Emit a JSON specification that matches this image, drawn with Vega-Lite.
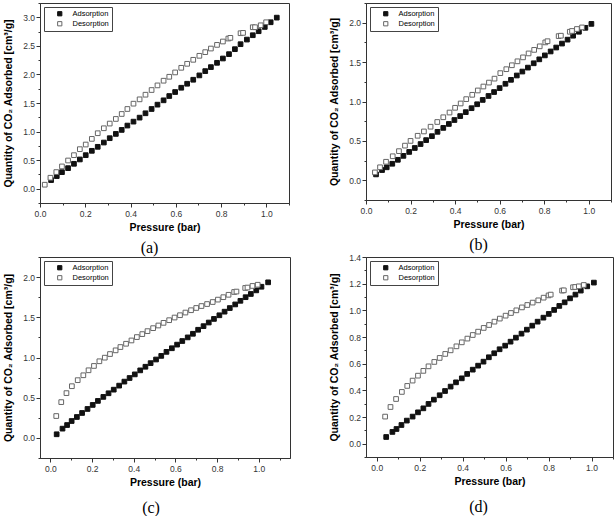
{
"$schema": "https://vega.github.io/schema/vega-lite/v6.json",
"padding": {"left": 3, "top": 2, "right": 2, "bottom": 0},
"background": "white",
"columns": 2,
"spacing": {"column": 38, "row": -6},
"resolve": {"scale": {"fill": "independent", "stroke": "independent"}},
"datasets": {
"a": [
{"p":0.049,"q":0.151,"s":"Adsorption"},{"p":0.074,"q":0.221,"s":"Adsorption"},{"p":0.097,"q":0.29,"s":"Adsorption"},{"p":0.124,"q":0.36,"s":"Adsorption"},{"p":0.150,"q":0.436,"s":"Adsorption"},{"p":0.176,"q":0.512,"s":"Adsorption"},{"p":0.202,"q":0.587,"s":"Adsorption"},{"p":0.229,"q":0.663,"s":"Adsorption"},{"p":0.255,"q":0.733,"s":"Adsorption"},{"p":0.282,"q":0.808,"s":"Adsorption"},{"p":0.308,"q":0.884,"s":"Adsorption"},{"p":0.335,"q":0.959,"s":"Adsorption"},{"p":0.361,"q":1.029,"s":"Adsorption"},{"p":0.386,"q":1.105,"s":"Adsorption"},{"p":0.413,"q":1.174,"s":"Adsorption"},{"p":0.440,"q":1.244,"s":"Adsorption"},{"p":0.466,"q":1.32,"s":"Adsorption"},{"p":0.493,"q":1.395,"s":"Adsorption"},{"p":0.519,"q":1.471,"s":"Adsorption"},{"p":0.546,"q":1.547,"s":"Adsorption"},{"p":0.571,"q":1.622,"s":"Adsorption"},{"p":0.597,"q":1.692,"s":"Adsorption"},{"p":0.624,"q":1.767,"s":"Adsorption"},{"p":0.650,"q":1.837,"s":"Adsorption"},{"p":0.677,"q":1.907,"s":"Adsorption"},{"p":0.704,"q":1.983,"s":"Adsorption"},{"p":0.730,"q":2.058,"s":"Adsorption"},{"p":0.755,"q":2.128,"s":"Adsorption"},{"p":0.782,"q":2.203,"s":"Adsorption"},{"p":0.808,"q":2.279,"s":"Adsorption"},{"p":0.835,"q":2.355,"s":"Adsorption"},{"p":0.861,"q":2.442,"s":"Adsorption"},{"p":0.886,"q":2.529,"s":"Adsorption"},{"p":0.914,"q":2.61,"s":"Adsorption"},{"p":0.940,"q":2.686,"s":"Adsorption"},{"p":0.966,"q":2.756,"s":"Adsorption"},{"p":0.993,"q":2.831,"s":"Adsorption"},{"p":1.019,"q":2.913,"s":"Adsorption"},{"p":1.046,"q":2.994,"s":"Adsorption"},
{"p":0.021,"q":0.07,"s":"Desorption"},{"p":0.046,"q":0.192,"s":"Desorption"},{"p":0.072,"q":0.291,"s":"Desorption"},{"p":0.097,"q":0.39,"s":"Desorption"},{"p":0.124,"q":0.494,"s":"Desorption"},{"p":0.150,"q":0.587,"s":"Desorption"},{"p":0.176,"q":0.692,"s":"Desorption"},{"p":0.202,"q":0.773,"s":"Desorption"},{"p":0.229,"q":0.872,"s":"Desorption"},{"p":0.255,"q":0.971,"s":"Desorption"},{"p":0.282,"q":1.058,"s":"Desorption"},{"p":0.308,"q":1.14,"s":"Desorption"},{"p":0.335,"q":1.221,"s":"Desorption"},{"p":0.361,"q":1.308,"s":"Desorption"},{"p":0.386,"q":1.395,"s":"Desorption"},{"p":0.413,"q":1.488,"s":"Desorption"},{"p":0.440,"q":1.564,"s":"Desorption"},{"p":0.466,"q":1.645,"s":"Desorption"},{"p":0.493,"q":1.727,"s":"Desorption"},{"p":0.519,"q":1.808,"s":"Desorption"},{"p":0.546,"q":1.89,"s":"Desorption"},{"p":0.571,"q":1.959,"s":"Desorption"},{"p":0.597,"q":2.035,"s":"Desorption"},{"p":0.624,"q":2.116,"s":"Desorption"},{"p":0.650,"q":2.186,"s":"Desorption"},{"p":0.677,"q":2.256,"s":"Desorption"},{"p":0.704,"q":2.326,"s":"Desorption"},{"p":0.730,"q":2.39,"s":"Desorption"},{"p":0.755,"q":2.453,"s":"Desorption"},{"p":0.782,"q":2.517,"s":"Desorption"},{"p":0.808,"q":2.576,"s":"Desorption"},{"p":0.832,"q":2.628,"s":"Desorption"},{"p":0.841,"q":2.64,"s":"Desorption"},{"p":0.886,"q":2.721,"s":"Desorption"},{"p":0.897,"q":2.727,"s":"Desorption"},{"p":0.940,"q":2.826,"s":"Desorption"},{"p":0.950,"q":2.826,"s":"Desorption"},{"p":0.975,"q":2.86,"s":"Desorption"},{"p":0.999,"q":2.913,"s":"Desorption"}
],
"b": [
{"p":0.045,"q":0.075,"s":"Adsorption"},{"p":0.072,"q":0.13,"s":"Adsorption"},{"p":0.093,"q":0.165,"s":"Adsorption"},{"p":0.118,"q":0.21,"s":"Adsorption"},{"p":0.143,"q":0.26,"s":"Adsorption"},{"p":0.168,"q":0.31,"s":"Adsorption"},{"p":0.194,"q":0.36,"s":"Adsorption"},{"p":0.219,"q":0.41,"s":"Adsorption"},{"p":0.245,"q":0.46,"s":"Adsorption"},{"p":0.270,"q":0.51,"s":"Adsorption"},{"p":0.296,"q":0.56,"s":"Adsorption"},{"p":0.321,"q":0.615,"s":"Adsorption"},{"p":0.347,"q":0.665,"s":"Adsorption"},{"p":0.372,"q":0.715,"s":"Adsorption"},{"p":0.397,"q":0.765,"s":"Adsorption"},{"p":0.423,"q":0.815,"s":"Adsorption"},{"p":0.448,"q":0.865,"s":"Adsorption"},{"p":0.474,"q":0.915,"s":"Adsorption"},{"p":0.499,"q":0.965,"s":"Adsorption"},{"p":0.524,"q":1.02,"s":"Adsorption"},{"p":0.550,"q":1.07,"s":"Adsorption"},{"p":0.575,"q":1.12,"s":"Adsorption"},{"p":0.600,"q":1.17,"s":"Adsorption"},{"p":0.626,"q":1.225,"s":"Adsorption"},{"p":0.651,"q":1.275,"s":"Adsorption"},{"p":0.677,"q":1.33,"s":"Adsorption"},{"p":0.702,"q":1.38,"s":"Adsorption"},{"p":0.727,"q":1.43,"s":"Adsorption"},{"p":0.753,"q":1.485,"s":"Adsorption"},{"p":0.778,"q":1.535,"s":"Adsorption"},{"p":0.803,"q":1.585,"s":"Adsorption"},{"p":0.829,"q":1.635,"s":"Adsorption"},{"p":0.854,"q":1.685,"s":"Adsorption"},{"p":0.880,"q":1.735,"s":"Adsorption"},{"p":0.905,"q":1.785,"s":"Adsorption"},{"p":0.930,"q":1.835,"s":"Adsorption"},{"p":0.956,"q":1.885,"s":"Adsorption"},{"p":0.985,"q":1.935,"s":"Adsorption"},{"p":1.012,"q":1.985,"s":"Adsorption"},
{"p":0.040,"q":0.10,"s":"Desorption"},{"p":0.063,"q":0.165,"s":"Desorption"},{"p":0.090,"q":0.235,"s":"Desorption"},{"p":0.120,"q":0.305,"s":"Desorption"},{"p":0.148,"q":0.37,"s":"Desorption"},{"p":0.175,"q":0.44,"s":"Desorption"},{"p":0.200,"q":0.50,"s":"Desorption"},{"p":0.232,"q":0.565,"s":"Desorption"},{"p":0.260,"q":0.62,"s":"Desorption"},{"p":0.290,"q":0.68,"s":"Desorption"},{"p":0.320,"q":0.74,"s":"Desorption"},{"p":0.347,"q":0.80,"s":"Desorption"},{"p":0.375,"q":0.86,"s":"Desorption"},{"p":0.400,"q":0.92,"s":"Desorption"},{"p":0.425,"q":0.975,"s":"Desorption"},{"p":0.450,"q":1.03,"s":"Desorption"},{"p":0.477,"q":1.085,"s":"Desorption"},{"p":0.502,"q":1.14,"s":"Desorption"},{"p":0.527,"q":1.19,"s":"Desorption"},{"p":0.552,"q":1.24,"s":"Desorption"},{"p":0.577,"q":1.29,"s":"Desorption"},{"p":0.603,"q":1.36,"s":"Desorption"},{"p":0.630,"q":1.41,"s":"Desorption"},{"p":0.655,"q":1.46,"s":"Desorption"},{"p":0.680,"q":1.51,"s":"Desorption"},{"p":0.705,"q":1.56,"s":"Desorption"},{"p":0.730,"q":1.61,"s":"Desorption"},{"p":0.755,"q":1.655,"s":"Desorption"},{"p":0.780,"q":1.70,"s":"Desorption"},{"p":0.805,"q":1.75,"s":"Desorption"},{"p":0.815,"q":1.765,"s":"Desorption"},{"p":0.865,"q":1.83,"s":"Desorption"},{"p":0.875,"q":1.835,"s":"Desorption"},{"p":0.915,"q":1.885,"s":"Desorption"},{"p":0.925,"q":1.895,"s":"Desorption"},{"p":0.947,"q":1.92,"s":"Desorption"},{"p":0.970,"q":1.94,"s":"Desorption"}
],
"c": [
{"p":0.030,"q":0.045,"s":"Adsorption"},{"p":0.058,"q":0.115,"s":"Adsorption"},{"p":0.080,"q":0.16,"s":"Adsorption"},{"p":0.102,"q":0.21,"s":"Adsorption"},{"p":0.127,"q":0.26,"s":"Adsorption"},{"p":0.152,"q":0.31,"s":"Adsorption"},{"p":0.178,"q":0.36,"s":"Adsorption"},{"p":0.203,"q":0.41,"s":"Adsorption"},{"p":0.228,"q":0.46,"s":"Adsorption"},{"p":0.254,"q":0.51,"s":"Adsorption"},{"p":0.279,"q":0.555,"s":"Adsorption"},{"p":0.304,"q":0.60,"s":"Adsorption"},{"p":0.330,"q":0.65,"s":"Adsorption"},{"p":0.355,"q":0.70,"s":"Adsorption"},{"p":0.380,"q":0.745,"s":"Adsorption"},{"p":0.405,"q":0.79,"s":"Adsorption"},{"p":0.431,"q":0.84,"s":"Adsorption"},{"p":0.456,"q":0.885,"s":"Adsorption"},{"p":0.481,"q":0.93,"s":"Adsorption"},{"p":0.507,"q":0.975,"s":"Adsorption"},{"p":0.532,"q":1.02,"s":"Adsorption"},{"p":0.557,"q":1.07,"s":"Adsorption"},{"p":0.583,"q":1.115,"s":"Adsorption"},{"p":0.608,"q":1.16,"s":"Adsorption"},{"p":0.633,"q":1.205,"s":"Adsorption"},{"p":0.659,"q":1.25,"s":"Adsorption"},{"p":0.684,"q":1.295,"s":"Adsorption"},{"p":0.709,"q":1.345,"s":"Adsorption"},{"p":0.735,"q":1.39,"s":"Adsorption"},{"p":0.760,"q":1.435,"s":"Adsorption"},{"p":0.785,"q":1.48,"s":"Adsorption"},{"p":0.811,"q":1.525,"s":"Adsorption"},{"p":0.836,"q":1.57,"s":"Adsorption"},{"p":0.861,"q":1.615,"s":"Adsorption"},{"p":0.887,"q":1.66,"s":"Adsorption"},{"p":0.912,"q":1.705,"s":"Adsorption"},{"p":0.937,"q":1.75,"s":"Adsorption"},{"p":0.962,"q":1.79,"s":"Adsorption"},{"p":0.988,"q":1.835,"s":"Adsorption"},{"p":1.013,"q":1.88,"s":"Adsorption"},{"p":1.045,"q":1.935,"s":"Adsorption"},
{"p":0.028,"q":0.272,"s":"Desorption"},{"p":0.052,"q":0.445,"s":"Desorption"},{"p":0.077,"q":0.557,"s":"Desorption"},{"p":0.103,"q":0.643,"s":"Desorption"},{"p":0.131,"q":0.718,"s":"Desorption"},{"p":0.158,"q":0.779,"s":"Desorption"},{"p":0.183,"q":0.841,"s":"Desorption"},{"p":0.209,"q":0.895,"s":"Desorption"},{"p":0.235,"q":0.953,"s":"Desorption"},{"p":0.261,"q":0.998,"s":"Desorption"},{"p":0.286,"q":1.043,"s":"Desorption"},{"p":0.313,"q":1.089,"s":"Desorption"},{"p":0.336,"q":1.13,"s":"Desorption"},{"p":0.363,"q":1.171,"s":"Desorption"},{"p":0.389,"q":1.212,"s":"Desorption"},{"p":0.415,"q":1.254,"s":"Desorption"},{"p":0.441,"q":1.291,"s":"Desorption"},{"p":0.466,"q":1.328,"s":"Desorption"},{"p":0.493,"q":1.365,"s":"Desorption"},{"p":0.518,"q":1.398,"s":"Desorption"},{"p":0.543,"q":1.431,"s":"Desorption"},{"p":0.570,"q":1.464,"s":"Desorption"},{"p":0.596,"q":1.497,"s":"Desorption"},{"p":0.622,"q":1.526,"s":"Desorption"},{"p":0.648,"q":1.559,"s":"Desorption"},{"p":0.675,"q":1.588,"s":"Desorption"},{"p":0.700,"q":1.616,"s":"Desorption"},{"p":0.725,"q":1.64,"s":"Desorption"},{"p":0.752,"q":1.665,"s":"Desorption"},{"p":0.779,"q":1.69,"s":"Desorption"},{"p":0.804,"q":1.72,"s":"Desorption"},{"p":0.830,"q":1.75,"s":"Desorption"},{"p":0.855,"q":1.78,"s":"Desorption"},{"p":0.882,"q":1.815,"s":"Desorption"},{"p":0.893,"q":1.82,"s":"Desorption"},{"p":0.935,"q":1.865,"s":"Desorption"},{"p":0.946,"q":1.87,"s":"Desorption"},{"p":0.970,"q":1.89,"s":"Desorption"},{"p":0.995,"q":1.905,"s":"Desorption"}
],
"d": [
{"p":0.044,"q":0.05,"s":"Adsorption"},{"p":0.073,"q":0.088,"s":"Adsorption"},{"p":0.092,"q":0.11,"s":"Adsorption"},{"p":0.115,"q":0.14,"s":"Adsorption"},{"p":0.140,"q":0.173,"s":"Adsorption"},{"p":0.167,"q":0.203,"s":"Adsorption"},{"p":0.192,"q":0.235,"s":"Adsorption"},{"p":0.217,"q":0.265,"s":"Adsorption"},{"p":0.241,"q":0.298,"s":"Adsorption"},{"p":0.266,"q":0.33,"s":"Adsorption"},{"p":0.293,"q":0.363,"s":"Adsorption"},{"p":0.318,"q":0.395,"s":"Adsorption"},{"p":0.344,"q":0.428,"s":"Adsorption"},{"p":0.369,"q":0.46,"s":"Adsorption"},{"p":0.396,"q":0.49,"s":"Adsorption"},{"p":0.421,"q":0.523,"s":"Adsorption"},{"p":0.447,"q":0.555,"s":"Adsorption"},{"p":0.472,"q":0.585,"s":"Adsorption"},{"p":0.497,"q":0.615,"s":"Adsorption"},{"p":0.522,"q":0.648,"s":"Adsorption"},{"p":0.547,"q":0.678,"s":"Adsorption"},{"p":0.572,"q":0.708,"s":"Adsorption"},{"p":0.598,"q":0.735,"s":"Adsorption"},{"p":0.623,"q":0.765,"s":"Adsorption"},{"p":0.648,"q":0.795,"s":"Adsorption"},{"p":0.674,"q":0.825,"s":"Adsorption"},{"p":0.699,"q":0.855,"s":"Adsorption"},{"p":0.724,"q":0.885,"s":"Adsorption"},{"p":0.749,"q":0.915,"s":"Adsorption"},{"p":0.776,"q":0.945,"s":"Adsorption"},{"p":0.801,"q":0.973,"s":"Adsorption"},{"p":0.826,"q":1.003,"s":"Adsorption"},{"p":0.850,"q":1.033,"s":"Adsorption"},{"p":0.875,"q":1.06,"s":"Adsorption"},{"p":0.900,"q":1.09,"s":"Adsorption"},{"p":0.925,"q":1.118,"s":"Adsorption"},{"p":0.950,"q":1.148,"s":"Adsorption"},{"p":0.980,"q":1.18,"s":"Adsorption"},{"p":1.011,"q":1.208,"s":"Adsorption"},
{"p":0.039,"q":0.203,"s":"Desorption"},{"p":0.064,"q":0.275,"s":"Desorption"},{"p":0.090,"q":0.335,"s":"Desorption"},{"p":0.117,"q":0.388,"s":"Desorption"},{"p":0.142,"q":0.433,"s":"Desorption"},{"p":0.167,"q":0.473,"s":"Desorption"},{"p":0.192,"q":0.51,"s":"Desorption"},{"p":0.217,"q":0.546,"s":"Desorption"},{"p":0.241,"q":0.58,"s":"Desorption"},{"p":0.268,"q":0.613,"s":"Desorption"},{"p":0.293,"q":0.643,"s":"Desorption"},{"p":0.319,"q":0.673,"s":"Desorption"},{"p":0.344,"q":0.70,"s":"Desorption"},{"p":0.371,"q":0.73,"s":"Desorption"},{"p":0.396,"q":0.76,"s":"Desorption"},{"p":0.422,"q":0.788,"s":"Desorption"},{"p":0.447,"q":0.815,"s":"Desorption"},{"p":0.472,"q":0.84,"s":"Desorption"},{"p":0.498,"q":0.868,"s":"Desorption"},{"p":0.523,"q":0.89,"s":"Desorption"},{"p":0.548,"q":0.915,"s":"Desorption"},{"p":0.573,"q":0.938,"s":"Desorption"},{"p":0.600,"q":0.96,"s":"Desorption"},{"p":0.625,"q":0.98,"s":"Desorption"},{"p":0.650,"q":1.0,"s":"Desorption"},{"p":0.676,"q":1.022,"s":"Desorption"},{"p":0.701,"q":1.04,"s":"Desorption"},{"p":0.726,"q":1.058,"s":"Desorption"},{"p":0.752,"q":1.075,"s":"Desorption"},{"p":0.777,"q":1.095,"s":"Desorption"},{"p":0.800,"q":1.112,"s":"Desorption"},{"p":0.810,"q":1.118,"s":"Desorption"},{"p":0.863,"q":1.148,"s":"Desorption"},{"p":0.871,"q":1.15,"s":"Desorption"},{"p":0.914,"q":1.173,"s":"Desorption"},{"p":0.924,"q":1.175,"s":"Desorption"},{"p":0.941,"q":1.18,"s":"Desorption"},{"p":0.964,"q":1.19,"s":"Desorption"}
]
},
"concat": [
{
"width": 249, "height": 200,
"data": {"name": "a"},
"title": {"text": "(a)", "offset": 7, "dx": -15},
"mark": {"type": "point", "shape": "square", "size": 22, "strokeWidth": 1, "opacity": 1},
"encoding": {
"x": {"field": "p", "type": "quantitative", "scale": {"domain": [0, 1.1], "nice": false, "zero": false},
 "axis": {"title": "Pressure (bar)", "values": [0,0.1,0.2,0.3,0.4,0.5,0.6,0.7,0.8,0.9,1.0,1.1],
  "labelExpr": "round(datum.value*10)%2==0 ? format(datum.value,'.1f') : ''",
  "labelFontSize": {"condition": {"test": "round(datum.value*10)%2==0", "value": 8.5}, "value": 0},
  "tickSize": {"condition": {"test": "round(datum.value*10)%2==0", "value": 4}, "value": 2}}},
"y": {"field": "q", "type": "quantitative", "scale": {"domain": [-0.25, 3.25], "nice": false, "zero": false},
 "axis": {"title": "Quantity of CO₂ Adsorbed [cm³/g]", "values": [-0.25,0,0.25,0.5,0.75,1,1.25,1.5,1.75,2,2.25,2.5,2.75,3,3.25],
  "labelExpr": "round(datum.value*4)%2==0 ? format(datum.value,'.1f') : ''",
  "labelFontSize": {"condition": {"test": "round(datum.value*4)%2==0", "value": 8.5}, "value": 0},
  "tickSize": {"condition": {"test": "round(datum.value*4)%2==0", "value": 4}, "value": 2}}},
"fill": {"field": "s", "type": "nominal", "scale": {"domain": ["Adsorption", "Desorption"], "range": ["#111111", "#ffffff"]}, "legend": {"title": null}},
"stroke": {"field": "s", "type": "nominal", "scale": {"domain": ["Adsorption", "Desorption"], "range": ["#111111", "#666666"]}, "legend": {"title": null}}
}
},
{
"width": 245, "height": 197,
"data": {"name": "b"},
"title": {"text": "(b)", "offset": 7, "dx": -10},
"mark": {"type": "point", "shape": "square", "size": 22, "strokeWidth": 1, "opacity": 1},
"encoding": {
"x": {"field": "p", "type": "quantitative", "scale": {"domain": [0, 1.1], "nice": false, "zero": false},
 "axis": {"title": "Pressure (bar)", "values": [0,0.1,0.2,0.3,0.4,0.5,0.6,0.7,0.8,0.9,1.0,1.1],
  "labelExpr": "round(datum.value*10)%2==0 ? format(datum.value,'.1f') : ''",
  "labelFontSize": {"condition": {"test": "round(datum.value*10)%2==0", "value": 8.5}, "value": 0},
  "tickSize": {"condition": {"test": "round(datum.value*10)%2==0", "value": 4}, "value": 2}}},
"y": {"field": "q", "type": "quantitative", "scale": {"domain": [-0.25, 2.25], "nice": false, "zero": false},
 "axis": {"title": "Quantity of CO₂ Adsorbed [cm³/g]", "values": [-0.25,0,0.25,0.5,0.75,1,1.25,1.5,1.75,2,2.25],
  "labelExpr": "round(datum.value*4)%2==0 ? format(datum.value,'.1f') : ''",
  "labelFontSize": {"condition": {"test": "round(datum.value*4)%2==0", "value": 8.5}, "value": 0},
  "tickSize": {"condition": {"test": "round(datum.value*4)%2==0", "value": 4}, "value": 2}}},
"fill": {"field": "s", "type": "nominal", "scale": {"domain": ["Adsorption", "Desorption"], "range": ["#111111", "#ffffff"]}, "legend": {"title": null}},
"stroke": {"field": "s", "type": "nominal", "scale": {"domain": ["Adsorption", "Desorption"], "range": ["#111111", "#666666"]}, "legend": {"title": null}}
}
},
{
"width": 250, "height": 201,
"data": {"name": "c"},
"title": {"text": "(c)", "offset": 12, "dx": -14},
"mark": {"type": "point", "shape": "square", "size": 22, "strokeWidth": 1, "opacity": 1},
"encoding": {
"x": {"field": "p", "type": "quantitative", "scale": {"domain": [-0.05, 1.15], "nice": false, "zero": false},
 "axis": {"title": "Pressure (bar)", "values": [0,0.1,0.2,0.3,0.4,0.5,0.6,0.7,0.8,0.9,1.0,1.1],
  "labelExpr": "round(datum.value*10)%2==0 ? format(datum.value,'.1f') : ''",
  "labelFontSize": {"condition": {"test": "round(datum.value*10)%2==0", "value": 8.5}, "value": 0},
  "tickSize": {"condition": {"test": "round(datum.value*10)%2==0", "value": 4}, "value": 2}}},
"y": {"field": "q", "type": "quantitative", "scale": {"domain": [-0.25, 2.25], "nice": false, "zero": false},
 "axis": {"title": "Quantity of CO₂ Adsorbed [cm³/g]", "values": [-0.25,0,0.25,0.5,0.75,1,1.25,1.5,1.75,2,2.25],
  "labelExpr": "round(datum.value*4)%2==0 ? format(datum.value,'.1f') : ''",
  "labelFontSize": {"condition": {"test": "round(datum.value*4)%2==0", "value": 8.5}, "value": 0},
  "tickSize": {"condition": {"test": "round(datum.value*4)%2==0", "value": 4}, "value": 2}}},
"fill": {"field": "s", "type": "nominal", "scale": {"domain": ["Adsorption", "Desorption"], "range": ["#111111", "#ffffff"]}, "legend": {"title": null}},
"stroke": {"field": "s", "type": "nominal", "scale": {"domain": ["Adsorption", "Desorption"], "range": ["#111111", "#666666"]}, "legend": {"title": null}}
}
},
{
"width": 247, "height": 200,
"data": {"name": "d"},
"title": {"text": "(d)", "offset": 12, "dx": -11},
"mark": {"type": "point", "shape": "square", "size": 22, "strokeWidth": 1, "opacity": 1},
"encoding": {
"x": {"field": "p", "type": "quantitative", "scale": {"domain": [-0.05, 1.1], "nice": false, "zero": false},
 "axis": {"title": "Pressure (bar)", "values": [0,0.1,0.2,0.3,0.4,0.5,0.6,0.7,0.8,0.9,1.0,1.1],
  "labelExpr": "round(datum.value*10)%2==0 ? format(datum.value,'.1f') : ''",
  "labelFontSize": {"condition": {"test": "round(datum.value*10)%2==0", "value": 8.5}, "value": 0},
  "tickSize": {"condition": {"test": "round(datum.value*10)%2==0", "value": 4}, "value": 2}}},
"y": {"field": "q", "type": "quantitative", "scale": {"domain": [-0.1, 1.4], "nice": false, "zero": false},
 "axis": {"title": "Quantity of CO₂ Adsorbed [cm³/g]", "values": [-0.1,0,0.1,0.2,0.3,0.4,0.5,0.6,0.7,0.8,0.9,1.0,1.1,1.2,1.3,1.4],
  "labelExpr": "round(datum.value*10)%2==0 ? format(datum.value,'.1f') : ''",
  "labelFontSize": {"condition": {"test": "round(datum.value*10)%2==0", "value": 8.5}, "value": 0},
  "tickSize": {"condition": {"test": "round(datum.value*10)%2==0", "value": 4}, "value": 2}}},
"fill": {"field": "s", "type": "nominal", "scale": {"domain": ["Adsorption", "Desorption"], "range": ["#111111", "#ffffff"]}, "legend": {"title": null}},
"stroke": {"field": "s", "type": "nominal", "scale": {"domain": ["Adsorption", "Desorption"], "range": ["#111111", "#666666"]}, "legend": {"title": null}}
}
}
],
"config": {
"view": {"stroke": "#333333", "strokeWidth": 1},
"axis": {"labelFont": "Liberation Sans", "labelColor": "#333333", "titleFont": "Liberation Sans", "titleFontWeight": "bold", "titleFontSize": 10.5, "titleColor": "#000000", "domainColor": "#333333", "tickColor": "#333333", "grid": false, "labelFlush": false, "labelOverlap": false},
"axisX": {"labelPadding": 2, "titlePadding": 5},
"axisY": {"labelPadding": 1.5, "titlePadding": 9},
"legend": {"orient": "top-left", "offset": 4, "padding": 3, "strokeColor": "#444444", "strokeWidth": 1, "fillColor": "#ffffff", "labelFont": "Liberation Sans", "labelFontSize": 7.5, "labelColor": "#000000", "symbolSize": 18, "symbolOffset": 9, "labelOffset": 9, "rowPadding": 1, "symbolStrokeWidth": 1, "symbolType": "square"},
"title": {"font": "Liberation Serif", "fontSize": 16, "fontWeight": "normal", "color": "#000000", "orient": "bottom", "frame": "group"}
}
}
